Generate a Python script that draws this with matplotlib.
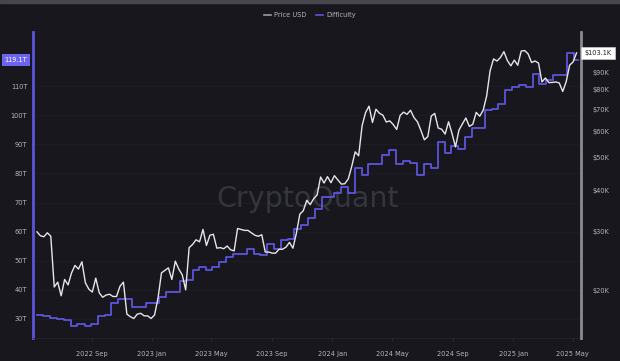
import matplotlib
matplotlib.use("Agg")
import matplotlib.pyplot as plt
import matplotlib.dates as mdates
from matplotlib.lines import Line2D
from matplotlib.patches import Rectangle
import numpy as np
import pandas as pd

# ---------------- data ----------------
price_start = "2022-05-13"
price_usd_k = [
    30.0, 29.2, 29.0, 29.8, 29.1, 20.5, 21.2, 19.3, 21.6, 20.8, 22.6, 23.8, 23.2, 24.4, 21.1, 20.2,
    19.8, 21.8, 19.7, 19.1, 19.4, 19.5, 19.2, 19.2, 20.6, 21.2, 17.0, 16.7, 16.5, 17.0, 17.1, 16.8,
    16.8, 16.5,
    16.9, 19.0, 22.6, 23.0, 23.4, 21.6, 24.5, 23.2, 22.3, 20.1, 26.9, 27.5, 28.4, 28.0, 30.5, 27.3,
    29.3, 29.5, 26.8, 26.9, 26.7, 27.2, 26.5, 26.3, 30.7, 30.5, 30.3, 30.3, 29.8, 29.3, 29.1, 29.4,
    26.1, 26.1, 25.9, 25.9, 26.6, 26.6, 27.0, 27.9, 26.8, 29.7, 33.9, 34.7, 37.3, 36.2, 37.7, 38.7,
    43.8, 42.0, 43.9, 42.1,
    44.2, 42.9, 41.7, 41.8, 43.2, 47.1, 52.1, 50.7, 62.4, 68.3, 71.4, 63.8, 69.9, 68.0, 67.1, 64.0,
    64.5, 62.9, 60.8, 67.0, 68.5, 67.5, 69.4, 66.0, 64.1, 60.4, 56.6, 57.9, 66.7, 67.9, 61.4, 60.9,
    58.9, 64.1, 59.1, 53.9, 60.5, 63.2, 65.8, 62.1, 63.0, 68.4, 66.6, 69.4, 76.5, 91.1, 98.9, 97.5,
    99.9, 104.0, 97.8, 94.3,
    98.1, 94.7, 104.4, 104.8, 102.4, 96.5, 97.5, 96.1, 84.4, 86.7, 84.0, 84.1, 84.4, 83.8, 79.0,
    84.5, 94.7, 96.9, 103.1,
]

diff_dates = [
    "2022-05-13", "2022-05-25", "2022-06-08", "2022-06-22", "2022-07-06", "2022-07-20", "2022-08-03",
    "2022-08-18", "2022-08-31", "2022-09-13", "2022-09-28", "2022-10-10", "2022-10-24", "2022-11-07",
    "2022-11-21", "2022-12-06", "2022-12-19", "2023-01-16", "2023-01-29", "2023-02-12", "2023-02-26",
    "2023-03-10", "2023-03-24", "2023-04-06", "2023-04-20", "2023-05-03", "2023-05-17", "2023-05-31",
    "2023-06-14", "2023-06-28", "2023-07-12", "2023-07-26", "2023-08-08", "2023-08-22", "2023-09-05",
    "2023-09-19", "2023-10-03", "2023-10-16", "2023-10-30", "2023-11-13", "2023-11-27", "2023-12-10",
    "2023-12-24", "2024-01-05", "2024-01-18", "2024-02-01", "2024-02-15", "2024-02-29", "2024-03-13",
    "2024-03-28", "2024-04-10", "2024-04-24", "2024-05-09", "2024-05-23", "2024-06-06", "2024-06-20",
    "2024-07-05", "2024-07-19", "2024-08-01", "2024-08-15", "2024-08-28", "2024-09-11", "2024-09-25",
    "2024-10-09", "2024-10-23", "2024-11-05", "2024-11-19", "2024-12-02", "2024-12-16", "2024-12-30",
    "2025-01-12", "2025-01-26", "2025-02-09", "2025-02-23", "2025-03-09", "2025-03-23", "2025-04-05",
    "2025-04-19", "2025-05-03", "2025-05-12",
]
diff_T = [
    31.25, 30.98, 30.28, 29.90, 29.57, 27.69, 28.35, 27.69, 28.35, 30.98, 31.36, 35.61, 36.84, 36.76,
    34.24, 34.09, 35.36, 37.59, 39.35, 39.16, 43.05, 43.55, 46.84, 47.89, 46.88, 47.89, 49.55, 51.23,
    52.35, 52.39, 53.91, 52.39, 52.14, 55.62, 54.15, 57.12, 57.32, 61.03, 62.46, 64.68, 67.96, 72.01,
    72.01, 73.20, 75.50, 73.20, 81.73, 79.35, 83.15, 83.13, 86.39, 88.10, 83.15, 84.38, 83.67, 79.50,
    83.15, 82.04, 90.67, 86.87, 89.47, 88.40, 92.67, 95.67, 95.50, 101.65, 102.29, 103.92, 108.52,
    109.78, 110.45, 109.78, 114.17, 110.57, 112.15, 113.76, 113.76, 121.51, 119.12, 119.12,
]

left_ticks = [30, 40, 50, 60, 70, 80, 90, 100, 110]
right_ticks_k = [20, 30, 40, 50, 60, 70, 80, 90]
x_tick_dates = ["2022-09-01", "2023-01-01", "2023-05-01", "2023-09-01", "2024-01-01",
                "2024-05-01", "2024-09-01", "2025-01-01", "2025-05-01"]
last_diff_label = "119.1T"
last_price_label = "$103.1K"
last_diff_value = 119.1
last_price_value = 103.1

# ---------------- style ----------------
BG = "#17171d"
TXT = "#b4b4bc"
BLUE = "#5b55dc"
WHITE = "#e6e6ea"

price_dates = pd.date_range(price_start, periods=len(price_usd_k), freq="7D")
d_dates = pd.to_datetime(diff_dates)

fig = plt.figure(figsize=(6.2, 3.61), dpi=100, facecolor=BG)
ax = fig.add_axes([33 / 620, 1 - 338 / 361, (581 - 33) / 620, (338 - 32) / 361])
ax.set_facecolor(BG)
ax2 = ax.twinx()

# difficulty (left, linear)
ax.step(d_dates, diff_T, where="post", color=BLUE, lw=1.3, zorder=3)
ax.set_ylim(23.47, 128.6)
ax.set_yticks(left_ticks)
ax.set_yticklabels([f"{v}T" for v in left_ticks])
ax.grid(axis="y", color="#1d1d24", lw=0.6)
ax.set_axisbelow(True)

# price (right, log)
ax2.plot(price_dates, np.array(price_usd_k) * 1000, color=WHITE, lw=1.0, zorder=4)
ax2.set_yscale("log")
ax2.set_ylim(14420, 119100)
ax2.yaxis.set_minor_locator(matplotlib.ticker.NullLocator())
ax2.set_yticks([v * 1000 for v in right_ticks_k])
ax2.set_yticklabels([f"${v}K" for v in right_ticks_k])

ax.set_xlim(pd.Timestamp("2022-05-05"), pd.Timestamp("2025-05-18"))
ax.set_xticks(pd.to_datetime(x_tick_dates))
ax.xaxis.set_major_formatter(mdates.DateFormatter("%Y %b"))

for a in (ax, ax2):
    for s in a.spines.values():
        s.set_visible(False)
ax.spines["left"].set_visible(True)
ax.spines["left"].set_color(BLUE)
ax.spines["left"].set_linewidth(2)
ax2.spines["right"].set_visible(True)
ax2.spines["right"].set_color("#8a8a90")
ax2.spines["right"].set_linewidth(2)
ax.spines["bottom"].set_visible(True)
ax.spines["bottom"].set_color("#25252d")
ax.spines["bottom"].set_linewidth(0.6)

ax.tick_params(axis="y", length=0, labelsize=4.8, labelcolor=TXT, pad=4)
ax2.tick_params(axis="y", length=0, labelsize=4.8, labelcolor=TXT, pad=8)
ax.tick_params(axis="x", length=2.5, color="#2a2a32", labelsize=4.8, labelcolor=TXT, pad=7)

# watermark
ax.text(0.502, 0.455, "CryptoQuant", transform=ax.transAxes, ha="center", va="center",
        fontsize=20.5, color="#35353d", zorder=1)

# last-value labels
ax.annotate(last_diff_label, xy=(0, last_diff_value), xycoords=("axes fraction", "data"),
            xytext=(-4, 0), textcoords="offset points", ha="right", va="center",
            fontsize=4.8, color="white",
            bbox=dict(boxstyle="square,pad=0.45", fc="#6c63f0", ec="none"))
ax2.annotate(last_price_label, xy=(1, last_price_value * 1000), xycoords=("axes fraction", "data"),
             xytext=(2.5, 0), textcoords="offset points", ha="left", va="center",
             fontsize=4.8, color="#222",
             bbox=dict(boxstyle="square,pad=0.45", fc="white", ec="#cccccc", lw=0.5))

# legend
handles = [Line2D([], [], color="#9a9aa2", lw=1.2), Line2D([], [], color=BLUE, lw=1.2)]
fig.legend(handles, ["Price USD", "Difficulty"], loc="center", bbox_to_anchor=(0.5, 1 - 15 / 361),
           ncol=2, frameon=False, fontsize=4.8, labelcolor=TXT, handlelength=1.0,
           handletextpad=0.5, columnspacing=1.5)

# top border strip
fig.patches.append(Rectangle((0, 1 - 2.5 / 361), 1, 2.5 / 361, transform=fig.transFigure,
                             color="#46464c", zorder=0))

fig.savefig("out.png", dpi=100, facecolor=BG)
